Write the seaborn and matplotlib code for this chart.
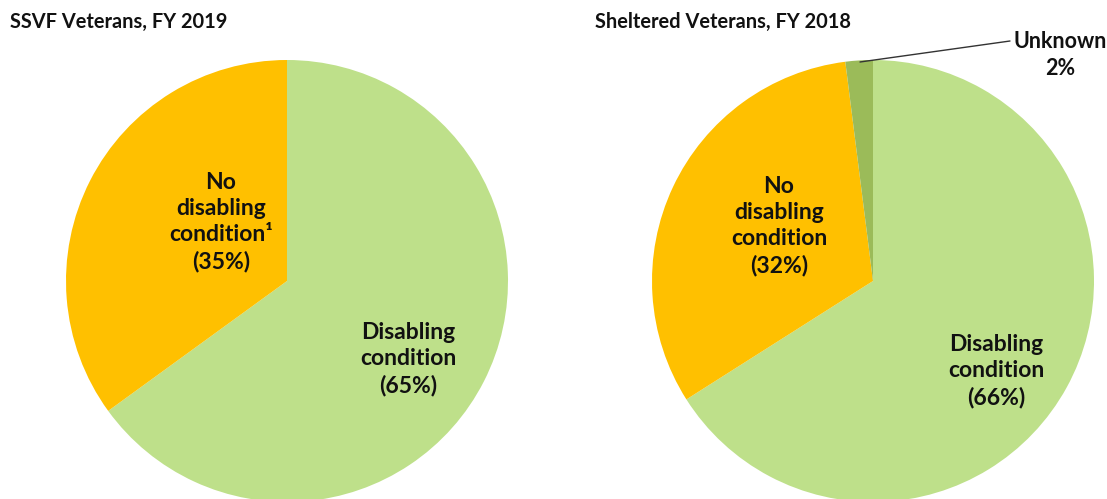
import matplotlib
matplotlib.use("Agg")
import matplotlib.pyplot as plt
import seaborn as sns

sns.set_theme(style="white")
plt.rcParams["font.family"] = ["Lato", "DejaVu Sans"]
plt.rcParams["font.weight"] = "bold"

W, H = 1107, 499
DPI = 100

# Disability status of veterans
ssvf_categories = ["Disabling condition", "No disabling condition"]
ssvf_values = [65, 35]
shelter_categories = ["Disabling condition", "No disabling condition", "Unknown"]
shelter_values = [66, 32, 2]

titles = ["SSVF Veterans, FY 2019", "Sheltered Veterans, FY 2018"]

colors = {
    "Disabling condition": "#BEE08A",
    "No disabling condition": "#FFC000",
    "Unknown": "#9BBB59",
}

fig = plt.figure(figsize=(W / DPI, H / DPI), dpi=DPI)


def pie_axes(cx, cy, r):
    # cx, cy, r in pixels, cy measured from the top edge
    return fig.add_axes([(cx - r) / W, (H - cy - r) / H, 2 * r / W, 2 * r / H])


ax1 = pie_axes(287, 281, 221)
ax2 = pie_axes(873, 281, 221)

for ax, cats, vals in [(ax1, ssvf_categories, ssvf_values),
                       (ax2, shelter_categories, shelter_values)]:
    ax.pie(vals, colors=[colors[c] for c in cats], startangle=90,
           counterclock=False, radius=1.0,
           wedgeprops=dict(linewidth=0))
    ax.set_xlim(-1, 1)
    ax.set_ylim(-1, 1)
    ax.set_aspect("equal")
    ax.axis("off")

fs = 16.5
lbl = dict(ha="center", va="center", fontsize=fs, fontweight="bold",
           color="#111111", linespacing=1.3)


def to_data(px, py, cx, cy, r):
    return (px - cx) / r, (cy - py) / r


x, y = to_data(221, 222, 287, 281, 221)
ax1.text(x, y, "No\ndisabling\ncondition\u00b9\n(" + f"{ssvf_values[1]}%)", **lbl)
x, y = to_data(408, 359, 287, 281, 221)
ax1.text(x, y, f"Disabling\ncondition\n({ssvf_values[0]}%)", **lbl)

x, y = to_data(779, 226, 873, 281, 221)
ax2.text(x, y, f"No\ndisabling\ncondition\n({shelter_values[1]}%)", **lbl)
x, y = to_data(996, 371, 873, 281, 221)
ax2.text(x, y, f"Disabling\ncondition\n({shelter_values[0]}%)", **lbl)

# Leader line and label for the small slice
x0, y0 = to_data(860, 62, 873, 281, 221)
x1, y1 = to_data(1010, 41, 873, 281, 221)
ax2.plot([x0, x1], [y0, y1], color="#333333", linewidth=1.0, clip_on=False)
x, y = to_data(1060, 55, 873, 281, 221)
ax2.text(x, y, f"Unknown\n{shelter_values[2]}%", clip_on=False,
         **{**lbl, "fontsize": 15.5})

fig.text(10 / W, 1 - 22 / H, titles[0], ha="left", va="center",
         fontsize=14.4, fontweight="bold", color="#111111")
fig.text(595 / W, 1 - 22 / H, titles[1], ha="left", va="center",
         fontsize=14.4, fontweight="bold", color="#111111")

fig.savefig("out.png", dpi=DPI, facecolor="white")
